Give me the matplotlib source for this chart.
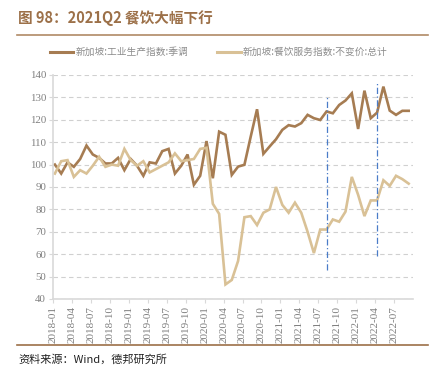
import matplotlib.pyplot as plt
from matplotlib.lines import Line2D

plt.rcParams['font.family'] = ['Noto Sans CJK SC', 'DejaVu Sans']

# monthly, 2018-01 .. 2022-09
ip_index = [100, 96, 101, 99, 102.5, 108.5, 104.5, 103, 100.5, 100.5,
            103, 97.5, 102.5, 99.5, 95, 101, 100.5, 106, 107, 96,
            99.5, 104.5, 91, 95, 110.5, 93.9, 114.7, 113.3, 95.4, 99.1,
            99.9, 112.5, 124.7, 104.8, 108.1, 111.3, 115.5, 117.6, 117.0, 118.5,
            122.2, 120.7, 119.9, 123.7, 122.9, 126.6, 128.6, 131.8, 115.9, 133.0,
            120.7, 123.2, 134.8, 124.1, 122.2, 124.0, 124.0]
food_index = [96, 101.5, 102, 94.5, 97.5, 96, 99.5, 103.5, 99, 100,
              99.5, 107, 102, 99.5, 101.5, 96.5, 98, 99.5, 101, 105,
              101.5, 102, 102.5, 107, 107.5, 82.5, 78, 46.5, 48.5, 57,
              76.5, 77, 73, 78.5, 80, 90, 82, 78.5, 83, 78.5,
              70, 60.5, 71, 71, 75.5, 74.5, 79, 94.5, 86.5, 77,
              84, 84, 93, 90.5, 95, 93.5, 91.5]
tick_labels = ['2018-01', '2018-04', '2018-07', '2018-10', '2019-01', '2019-04',
               '2019-07', '2019-10', '2020-01', '2020-04', '2020-07', '2020-10',
               '2021-01', '2021-04', '2021-07', '2021-10', '2022-01', '2022-04',
               '2022-07']
# vertical markers: (month index, y from, y to)
marker_lines = [(43, 53, 131), (51, 59, 137)]

brown = '#a67c52'
beige = '#d9c196'
grey = '#7f7f7f'

fig = plt.figure(figsize=(4.33, 3.73), dpi=100)
ax = fig.add_axes([0.1224, 0.1984, 0.8316, 0.6006])

x = [i + 0.3 for i in range(len(ip_index))]
ax.plot(x, ip_index, color=brown, lw=1.9, solid_joinstyle='miter')
ax.plot(x, food_index, color=beige, lw=1.9, solid_joinstyle='miter')
for m, y0, y1 in marker_lines:
    ax.plot([m + 0.3, m + 0.3], [y0, y1], color='#4a7cc8', lw=0.9,
            ls=(0, (5, 2, 1, 2)))

ax.set_xlim(0, 57)
ax.set_ylim(40, 140)
ax.set_yticks(range(40, 141, 10))
ax.set_xticks(range(0, 3 * len(tick_labels), 3))
ax.set_xticklabels(tick_labels, rotation=90)
for lab in ax.get_xticklabels():
    lab.set_family('Liberation Serif')
    lab.set_fontsize(8)
    lab.set_color(grey)
for lab in ax.get_yticklabels():
    lab.set_family('Liberation Serif')
    lab.set_fontsize(7.8)
    lab.set_color(grey)

ax.grid(axis='y', color='#d0d0d0', ls=(0, (4, 3)), lw=0.8)
ax.set_axisbelow(True)
for s in ['top', 'right']:
    ax.spines[s].set_visible(False)
for s in ['left', 'bottom']:
    ax.spines[s].set_color('#d9d9d9')
    ax.spines[s].set_linewidth(1.2)
ax.tick_params(axis='both', length=3, color='#d9d9d9', pad=2)

handles = [Line2D([], [], color=brown, lw=2.2), Line2D([], [], color=beige, lw=2.2)]
fig.legend(handles, ['新加坡:工业生产指数:季调', '新加坡:餐饮服务指数:不变价:总计'],
           loc='center', bbox_to_anchor=(0.505, 0.86), ncol=2, frameon=False,
           fontsize=7, handlelength=2.4, handletextpad=0.2, columnspacing=3.0,
           labelcolor='#8c8c8c')

fig.text(0.042, 0.952, '图 98：2021Q2 餐饮大幅下行', fontsize=10.5,
         fontweight='bold', color='#9c7048', va='center')
fig.add_artist(Line2D([0.04, 0.988], [0.906, 0.906], color='#b08a66', lw=1.2))
fig.add_artist(Line2D([0.04, 0.988], [0.075, 0.075], color='#9c7048', lw=1.2))
fig.text(0.042, 0.035, '资料来源：Wind，德邦研究所', fontsize=8, color='#222222',
         va='center')

fig.savefig('out.png', dpi=100)
